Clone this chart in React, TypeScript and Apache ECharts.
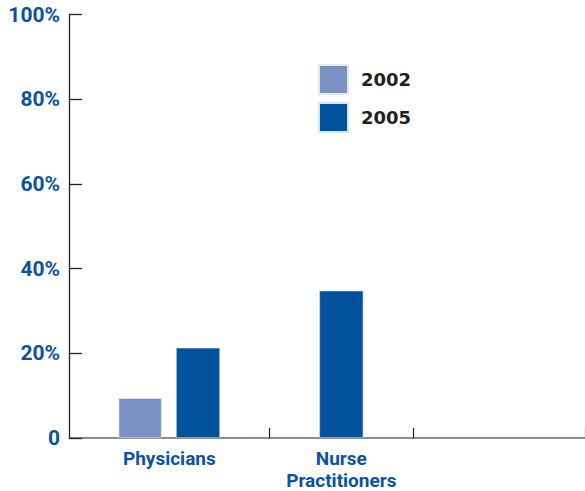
import React, { useEffect, useRef } from "react";
import * as echarts from "echarts";

// ---- data ----
const categories = ["Physicians", "Nurse\nPractitioners"];
const years = ["2002", "2005"];
const values2002: (number | null)[] = [9.4, null];
const values2005: (number | null)[] = [21.3, 34.8];
const yTicks = [0, 20, 40, 60, 80, 100];

// ---- layout (uneven category widths of the original, built from fine slots) ----
const SLOTS = 18;
const groupSlots = [
  { start: 0, size: 7 },
  { start: 7, size: 5 },
];

const colors = ["#7b91c5", "#02519c"];
const blue = "#0b53a0";

function buildSlots() {
  const names: string[] = [];
  const labels: string[] = [];
  for (let i = 0; i < SLOTS; i++) {
    names.push("s" + i);
    labels.push("");
  }
  const s2002: (number | null)[] = new Array(SLOTS).fill(null);
  const s2005: (number | null)[] = new Array(SLOTS).fill(null);
  const tickIdx: number[] = [];
  groupSlots.forEach((g, gi) => {
    const center = g.start + Math.floor(g.size / 2);
    labels[center] = categories[gi];
    const a = values2002[gi];
    const b = values2005[gi];
    if (a != null && b != null) {
      s2002[center - 1] = a;
      s2005[center + 1] = b;
    } else if (a != null) {
      s2002[center] = a;
    } else if (b != null) {
      s2005[center] = b;
    }
    if (g.start > 0) tickIdx.push(g.start);
    tickIdx.push(g.start + g.size);
  });
  return { names, labels, s2002, s2005, tickIdx };
}

export default function App() {
  const ref = useRef<HTMLDivElement>(null);
  useEffect(() => {
    if (!ref.current) return;
    const chart = echarts.init(ref.current, null, { renderer: "svg" });
    const { names, labels, s2002, s2005, tickIdx } = buildSlots();
    const labelFont = "Roboto, 'DejaVu Sans Condensed', sans-serif";
    chart.setOption({
      animation: false,
      backgroundColor: "#ffffff",
      grid: { left: 69, right: 0, top: 14.5, bottom: 51.5, containLabel: false },
      legend: {
        data: years,
        orient: "vertical",
        left: 318,
        top: 64,
        itemWidth: 29,
        itemHeight: 29,
        itemGap: 7,
        icon: "rect",
        padding: 0,
        textStyle: {
          fontFamily: "'DejaVu Sans', sans-serif",
          fontWeight: "bold",
          fontSize: 18,
          color: "#231f20",
          padding: [0, 0, 0, 8],
        },
      },
      xAxis: {
        type: "category",
        data: names,
        boundaryGap: true,
        axisLine: { show: true, lineStyle: { color: "#666", width: 1.5 } },
        axisTick: {
          show: true,
          inside: true,
          length: 10,
          interval: (index: number) => tickIdx.indexOf(index) >= 0,
          lineStyle: { color: "#222", width: 1.2 },
        },
        axisLabel: {
          interval: 0,
          margin: 9,
          formatter: (_v: string, i: number) => labels[i],
          color: blue,
          fontFamily: labelFont,
          fontWeight: "bold",
          fontSize: 19,
          lineHeight: 22,
        },
        splitLine: { show: false },
      },
      yAxis: {
        type: "value",
        min: yTicks[0],
        max: yTicks[yTicks.length - 1],
        interval: 20,
        axisLine: { show: true, lineStyle: { color: "#222", width: 1.3 } },
        axisTick: { show: true, inside: true, length: 13, lineStyle: { color: "#222", width: 1.3 } },
        splitLine: { show: false },
        axisLabel: {
          margin: 9,
          formatter: (v: number) => (v === 0 ? "0" : v + "%"),
          color: blue,
          fontFamily: labelFont,
          fontWeight: "bold",
          fontSize: 21,
        },
      },
      series: [
        {
          name: years[0],
          type: "bar",
          data: s2002,
          barWidth: 43,
          barGap: "-100%",
          itemStyle: { color: colors[0], borderColor: "#e3e8f2", borderWidth: 0.6 },
        },
        {
          name: years[1],
          type: "bar",
          data: s2005,
          barWidth: 44,
          barGap: "-100%",
          itemStyle: { color: colors[1], borderColor: "#dbe3ef", borderWidth: 0.6 },
        },
      ],
    });
    return () => chart.dispose();
  }, []);
  return (
    <div
      ref={ref}
      style={{ position: "fixed", left: 0, top: 0, width: 585, height: 491 }}
    />
  );
}
